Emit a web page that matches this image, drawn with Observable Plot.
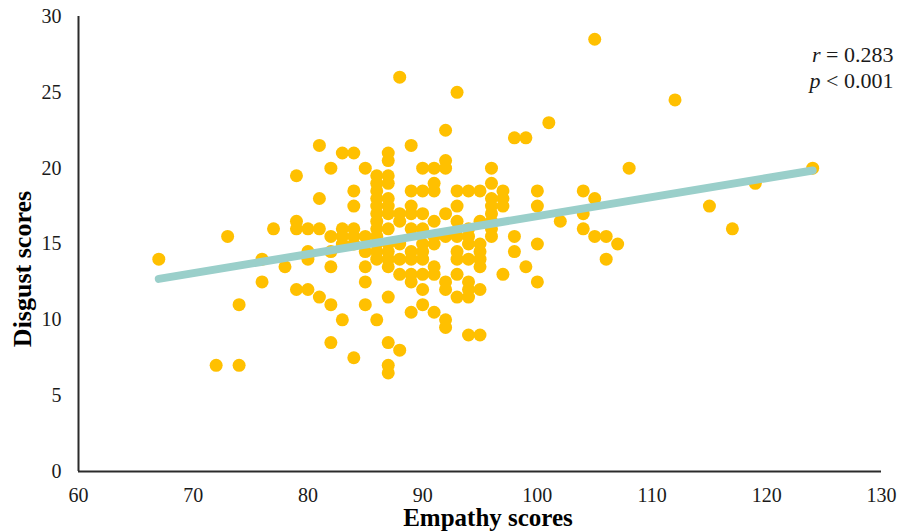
<!DOCTYPE html>
<html>
<head>
<meta charset="utf-8">
<script src="https://cdn.jsdelivr.net/npm/d3@7"></script>
<script src="https://cdn.jsdelivr.net/npm/@observablehq/plot@0.6"></script>
<style>
  html, body { margin: 0; padding: 0; background: #fff; }
</style>
</head>
<body>
<div id="chart"></div>
<script>
// Empathy score (x) and Disgust score (y) for each participant
const empathy = [
  67, 72, 73, 74, 74, 76, 76, 77, 78,
  79, 79, 79, 79,
  80, 80, 80, 80,
  81, 81, 81, 81,
  82, 82, 82, 82, 82, 82,
  83, 83, 83, 83, 83,
  84, 84, 84, 84, 84, 84, 84,
  85, 85, 85, 85, 85, 85,
  86, 86, 86, 86, 86, 86, 86, 86, 86, 86, 86, 86, 86,
  87, 87, 87, 87, 87, 87, 87, 87, 87, 87, 87, 87, 87, 87, 87, 87,
  88, 88, 88, 88, 88, 88, 88,
  89, 89, 89, 89, 89, 89, 89, 89, 89, 89,
  90, 90, 90, 90, 90, 90, 90, 90, 90, 90,
  91, 91, 91, 91, 91, 91, 91, 91, 91,
  92, 92, 92, 92, 92, 92, 92, 92, 92,
  93, 93, 93, 93, 93, 93, 93, 93, 93,
  94, 94, 94, 94, 94, 94, 94, 94, 94,
  95, 95, 95, 95, 95, 95, 95, 95,
  96, 96, 96, 96, 96, 96, 96, 96,
  97, 97, 97, 97,
  98, 98, 98,
  99, 99,
  100, 100, 100, 100,
  101, 102,
  104, 104, 104,
  105, 105, 105,
  106, 106, 107, 108, 112, 115, 117, 119, 124
];
const disgust = [
  14, 7, 15.5, 11, 7, 14, 12.5, 16, 13.5,
  19.5, 16.5, 16, 12,
  16, 14.5, 14, 12,
  21.5, 18, 16, 11.5,
  20, 15.5, 14.5, 13.5, 11, 8.5,
  21, 16, 15.5, 15, 10,
  21, 18.5, 17.5, 16, 15.5, 15, 7.5,
  20, 15.5, 14.5, 13.5, 12.5, 11,
  19.5, 19, 18.5, 18, 17.5, 17, 16.5, 16, 15.5, 15, 14.5, 14, 10,
  21, 20.5, 19.5, 19, 18, 17.5, 17, 16, 15, 14.5, 14, 13.5, 11.5, 8.5, 7, 6.5,
  26, 17, 16.5, 15, 14, 13, 8,
  21.5, 18.5, 17.5, 17, 16, 14.5, 14, 13, 12.5, 10.5,
  20, 18.5, 17, 16, 15, 14.5, 14, 13, 12, 11,
  20, 19, 18.5, 16.5, 15.5, 15, 13.5, 13, 10.5,
  22.5, 20.5, 20, 17, 15.5, 12.5, 12, 10, 9.5,
  25, 18.5, 17.5, 16.5, 15.5, 14.5, 14, 13, 11.5,
  18.5, 16, 15.5, 15, 14, 12.5, 12, 11.5, 9,
  18.5, 16.5, 15, 14.5, 14, 13.5, 12, 9,
  20, 19, 18, 17.5, 17, 16.5, 16, 15.5,
  18.5, 18, 17.5, 13,
  22, 15.5, 14.5,
  22, 13.5,
  18.5, 17.5, 15, 12.5,
  23, 16.5,
  18.5, 17, 16,
  28.5, 18, 15.5,
  15.5, 14, 15, 20, 24.5, 17.5, 16, 19, 20
];

// Linear trend line end points
const trendX = [67, 124];
const trendY = [12.7, 19.85];

// Axis ticks
const xTicks = [60, 70, 80, 90, 100, 110, 120, 130];
const yTicks = [0, 5, 10, 15, 20, 25, 30];

// Labels
const xTitle = "Empathy scores";
const yTitle = "Disgust scores";
const statR = "r = 0.283";
const statP = "p < 0.001";

const points = empathy.map((e, i) => ({x: e, y: disgust[i]}));
const trend = trendX.map((t, i) => ({x: t, y: trendY[i]}));

const serif = "'Liberation Serif', 'Times New Roman', Times, serif";

const chart = Plot.plot({
  width: 898,
  height: 531,
  marginLeft: 78,
  marginRight: 17,
  marginTop: 16,
  marginBottom: 60,
  style: {fontFamily: serif, fontSize: "20px", color: "#1a1a1a", background: "#fff"},
  x: {domain: [60, 130], label: null},
  y: {domain: [0, 30], label: null},
  marks: [
    Plot.axisX(xTicks, {tickSize: 0, tickPadding: 16, label: null, fontSize: 20, tickFormat: d => String(d)}),
    Plot.axisY(yTicks, {tickSize: 0, tickPadding: 17, label: null, fontSize: 20, tickFormat: d => String(d)}),
    Plot.dot(points, {x: "x", y: "y", r: 6.5, fill: "#FFC000", stroke: "none"}),
    Plot.line(trend, {x: "x", y: "y", stroke: "#9ACFCA", strokeWidth: 8, strokeLinecap: "round"}),
    Plot.ruleY([0], {stroke: "#2b2b2b", strokeWidth: 2}),
    Plot.ruleX([60], {stroke: "#2b2b2b", strokeWidth: 2}),
    Plot.text([xTitle], {text: d => d, frameAnchor: "bottom", textAnchor: "middle", lineAnchor: "bottom", dy: 54, dx: 8, fontSize: 25, fontWeight: "bold", fontFamily: serif, fill: "#000"}),
    Plot.text([yTitle], {text: d => d, frameAnchor: "left", textAnchor: "middle", rotate: -90, lineAnchor: "bottom", dx: -48, dy: 25, fontSize: 26, fontWeight: "bold", fontFamily: serif, fill: "#000"}),
    Plot.text([statR], {text: d => d, frameAnchor: "top-right", textAnchor: "end", lineAnchor: "bottom", dx: 12, dy: 45.5, fontSize: 22, fontFamily: serif, fill: "#1a1a1a"}),
    Plot.text([statP], {text: d => d, frameAnchor: "top-right", textAnchor: "end", lineAnchor: "bottom", dx: 12, dy: 71, fontSize: 22, fontFamily: serif, fill: "#1a1a1a"})
  ]
});

// tick label font
d3.select(chart).selectAll('g[aria-label$="tick label"]').attr("font-size", 20).attr("font-family", serif);

// italicise the statistic symbols (r, p)
d3.select(chart).selectAll("text").each(function() {
  const t = this.textContent;
  if (t === statR || t === statP) {
    const sym = t.slice(0, 1);
    const rest = t.slice(1);
    const sel = d3.select(this);
    sel.text(null);
    sel.append("tspan").attr("font-style", "italic").text(sym);
    sel.append("tspan").text(rest);
  }
});

document.getElementById("chart").appendChild(chart);
</script>
</body>
</html>
